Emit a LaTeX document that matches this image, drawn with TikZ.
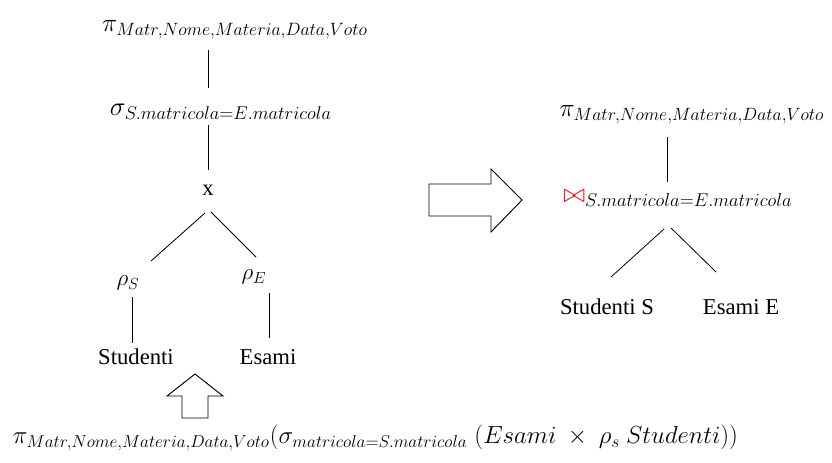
\documentclass[tikz,border=0pt]{standalone}
\usepackage{fontspec}
\setmainfont{Liberation Serif}
\usetikzlibrary{calc}
\newcommand{\fitw}[2]{\resizebox{#1pt}{!}{$#2$}}
\begin{document}
\begin{tikzpicture}[x=0.75pt,y=-0.75pt,
  lbl/.style={inner sep=0pt,font=\fontsize{17}{20}\selectfont},
  conn/.style={draw=black,line width=0.6pt},
  blockarrow/.style={draw=black,line width=0.7pt,fill=white}]
\useasboundingbox (0,0) rectangle (832,463);
% left tree
\node[lbl] (pi1) at (235,30) {\fitw{199.5}{\pi_{Matr,Nome,Materia,Data,Voto}}};
\node[lbl] (sig1) at (221,112) {\fitw{166.5}{\sigma_{S.matricola=E.matricola}}};
\node[lbl] (x) at (208,190) {x};
\node[lbl] (rhoS) at (128,283) {$\rho_S$};
\node[lbl] (rhoE) at (254,277) {$\rho_E$};
\node[lbl] (stud) at (136,357) {Studenti};
\node[lbl] (esami) at (268,357) {Esami};
\draw[conn] ($(pi1)+(-27,20)$) -- ($(sig1)+(-13,-24)$);
\draw[conn] ($(sig1)+(-13,13)$) -- ($(x)+(0,-20)$);
\draw[conn] ($(x)+(-3,23)$) -- ($(rhoS)+(23,-22)$);
\draw[conn] ($(x)+(3,22)$) -- ($(rhoE)+(2,-20)$);
\draw[conn] ($(rhoS)+(4,14)$) -- ($(stud)+(-4,-14)$);
\draw[conn] ($(rhoE)+(15,16)$) -- ($(esami)+(1,-19)$);
% right tree
\node[lbl] (pi2) at (692,115) {\fitw{198.75}{\pi_{Matr,Nome,Materia,Data,Voto}}};
\node[lbl] (join) at (678,198) {\fitw{171.75}{{\color{red}\bowtie}_{S.matricola=E.matricola}}};
\node[lbl] (studS) at (607,307) {Studenti S};
\node[lbl] (esamiE) at (741,307) {Esami E};
\draw[conn] ($(pi2)+(-25,22)$) -- ($(join)+(-11,-16)$);
\draw[conn] ($(join)+(-14,31)$) -- ($(studS)+(4,-30)$);
\draw[conn] ($(join)+(-7,30)$) -- ($(esamiE)+(-25,-35)$);
% block arrows
\draw[blockarrow] (182,418) -- (182,396) -- (167,396) -- (195,374) -- (223,396) -- (208,396) -- (208,418) -- cycle;
\draw[blockarrow] (429,184) -- (491,184) -- (491,169) -- (522,200) -- (491,232) -- (491,216) -- (429,216) -- cycle;
% bottom formula
\node[lbl] (formula) at (375.5,438) {\fitw{543.75}{\pi_{Matr,Nome,Materia,Data,Voto}(\sigma_{matricola=S.matricola}\;(Esami\ \times\ \rho_s\ Studenti))}};
\end{tikzpicture}
\end{document}
